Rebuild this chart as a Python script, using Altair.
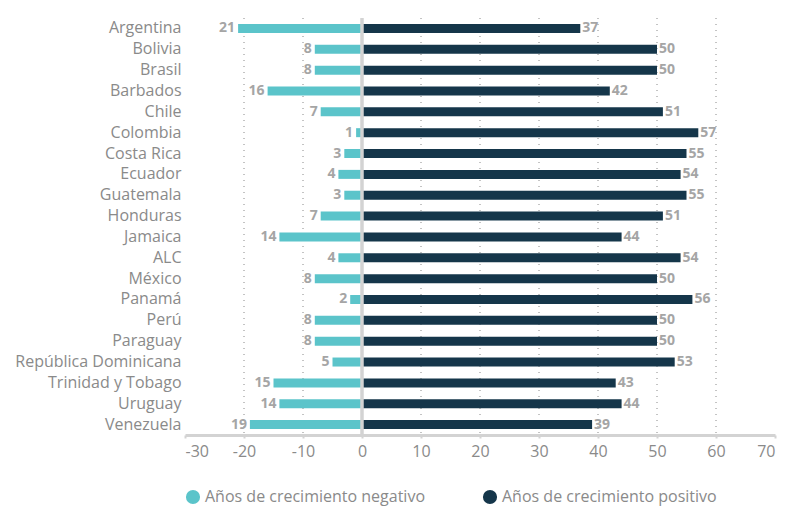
import altair as alt
import pandas as pd

countries = ["Argentina", "Bolivia", "Brasil", "Barbados", "Chile", "Colombia", "Costa Rica",
             "Ecuador", "Guatemala", "Honduras", "Jamaica", "ALC", "México", "Panamá", "Perú",
             "Paraguay", "República Dominicana", "Trinidad y Tobago", "Uruguay", "Venezuela"]
negative = [21, 8, 8, 16, 7, 1, 3, 4, 3, 7, 14, 4, 8, 2, 8, 8, 5, 15, 14, 19]
positive = [37, 50, 50, 42, 51, 57, 55, 54, 55, 51, 44, 54, 50, 56, 50, 50, 53, 43, 44, 39]
series = ["Años de crecimiento negativo", "Años de crecimiento positivo"]
colors = ["#5BC4CA", "#15364A"]
tick_values = [-30, -20, -10, 0, 10, 20, 30, 40, 50, 60, 70]
grid_values = [-20, -10, 10, 20, 30, 40, 50, 60]

rows = []
for c, n, p in zip(countries, negative, positive):
    rows.append({"country": c, "serie": series[0], "value": -n, "label": str(n), "side": "neg"})
    rows.append({"country": c, "serie": series[1], "value": p, "label": str(p), "side": "pos"})
df = pd.DataFrame(rows)

FONT = "Open Sans"
y = alt.Y("country:N", sort=countries, title=None,
          axis=alt.Axis(domain=False, ticks=False, labelFontSize=16, labelColor="#8a8a8a",
                        labelFont=FONT, labelPadding=4, labelLimit=0))
x = alt.X("value:Q", title=None, scale=alt.Scale(domain=[-30, 70], nice=False),
          axis=alt.Axis(values=tick_values, grid=False,
                        domainColor="#d3d3d3", domainWidth=3,
                        tickColor="#d3d3d3", tickSize=3, tickWidth=2, labelFontSize=16,
                        labelColor="#8a8a8a", labelFont=FONT, labelPadding=5,
                        labelExpr="toString(datum.value)"))

grid = alt.Chart(pd.DataFrame({"g": grid_values})).mark_rule(
    color="#888", strokeWidth=1, strokeDash=[1, 5]).encode(x="g:Q")

bars = alt.Chart(df).mark_bar(size=9).encode(
    x=x, y=y,
    color=alt.Color("serie:N", scale=alt.Scale(domain=series, range=colors),
                    legend=alt.Legend(title=None, orient="bottom", direction="horizontal",
                                      symbolType="circle", symbolSize=200, symbolStrokeWidth=0,
                                      labelFontSize=16, labelColor="#8a8a8a", labelFont=FONT,
                                      labelLimit=0, columnPadding=56, offset=30,
                                      symbolOpacity=1)),
)

neg_text = alt.Chart(df[df.side == "neg"]).mark_text(
    align="right", dx=-3, fontSize=14, fontWeight="bold", color="#a5a5a5", font=FONT
).encode(x="value:Q", y=alt.Y("country:N", sort=countries), text="label:N")

pos_text = alt.Chart(df[df.side == "pos"]).mark_text(
    align="left", dx=2, fontSize=14, fontWeight="bold", color="#a5a5a5", font=FONT
).encode(x="value:Q", y=alt.Y("country:N", sort=countries), text="label:N")

zero = alt.Chart(pd.DataFrame({"z": [0]})).mark_rule(color="#d3d3d3", strokeWidth=3.5).encode(
    x="z:Q")

chart = alt.layer(grid, bars, zero, neg_text, pos_text).properties(
    width=590, height=417
).configure(
    background="white", padding={"left": 6, "top": 8, "right": 5, "bottom": 5}
).configure_view(stroke=None)

chart.save("out.html", embed_options={"renderer": "svg", "actions": False})
